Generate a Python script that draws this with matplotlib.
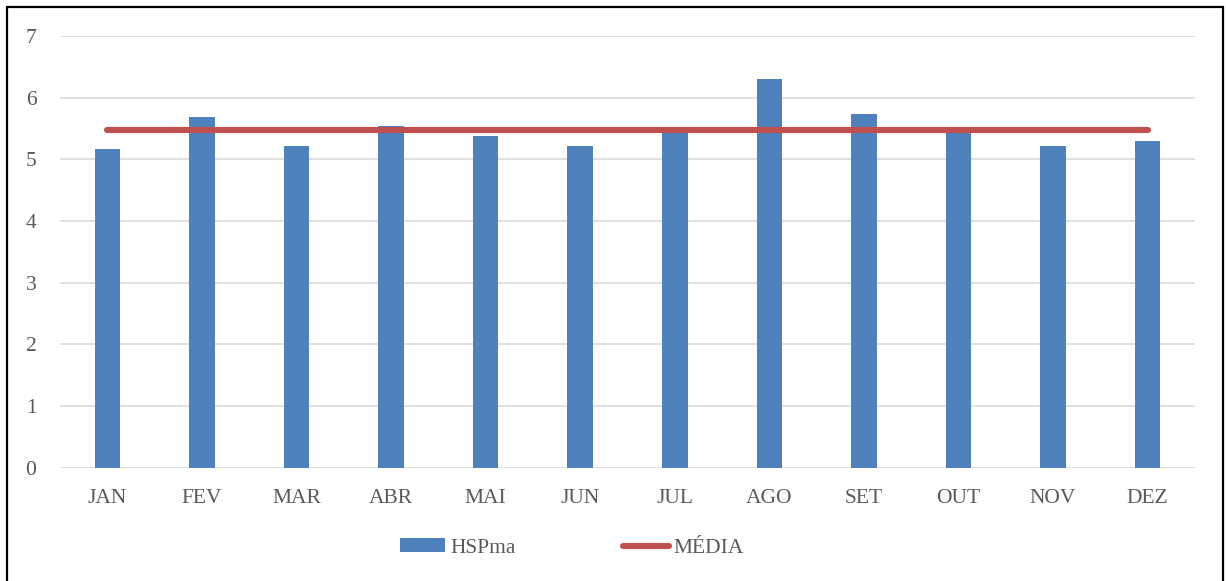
import matplotlib.pyplot as plt
from matplotlib.patches import Rectangle, Patch
from matplotlib.lines import Line2D

# monthly values
meses = ["JAN", "FEV", "MAR", "ABR", "MAI", "JUN",
         "JUL", "AGO", "SET", "OUT", "NOV", "DEZ"]
hspma = [5.17, 5.68, 5.21, 5.54, 5.38, 5.21,
         5.49, 6.30, 5.73, 5.53, 5.21, 5.29]
media = [5.48] * 12

BAR_COLOR = "#4F81BD"
LINE_COLOR = "#C0504D"
TEXT_COLOR = "#595959"
FS = 15.5

plt.rcParams["font.family"] = ["Liberation Serif", "DejaVu Serif"]

W, H = 1226, 581
fig = plt.figure(figsize=(W / 100, H / 100), dpi=100)
ax = fig.add_axes([60 / W, 1 - 467.7 / H, (1195 - 60) / W, (467.7 - 36) / H])

x = list(range(len(meses)))
ax.bar(x, hspma, width=0.27, color=BAR_COLOR, zorder=2)
ax.plot(x, media, color=LINE_COLOR, lw=4.4, solid_capstyle="round", zorder=3)

ax.set_xlim(-0.5, len(meses) - 0.5)
ax.set_ylim(0, 7)
ax.set_yticks(range(0, 8))
ax.set_xticks(x)
ax.set_xticklabels(meses)
ax.tick_params(axis="both", length=0, labelsize=FS, colors=TEXT_COLOR)
ax.tick_params(axis="y", pad=17)
ax.tick_params(axis="x", pad=15)
ax.grid(axis="y", color="#D9D9D9", lw=1.2, zorder=0)
for s in ax.spines.values():
    s.set_visible(False)

handles = [Patch(facecolor=BAR_COLOR, label="HSPma"),
           Line2D([], [], color=LINE_COLOR, lw=4.4, solid_capstyle="round", label="MÉDIA")]
leg = fig.legend(handles=handles, loc="center", ncol=2, frameon=False,
                 bbox_to_anchor=(572 / W, 1 - 548 / H), fontsize=FS,
                 handlelength=2.1, handleheight=0.6, handletextpad=0.25,
                 columnspacing=5.0)
for t in leg.get_texts():
    t.set_color(TEXT_COLOR)

# outer frame
fig.patches.append(Rectangle((7 / W, -0.02), (1223 - 7) / W, 1.02 - 6.5 / H,
                             transform=fig.transFigure, fill=False,
                             edgecolor="black", lw=1.6))

fig.savefig("out.png", dpi=100)
